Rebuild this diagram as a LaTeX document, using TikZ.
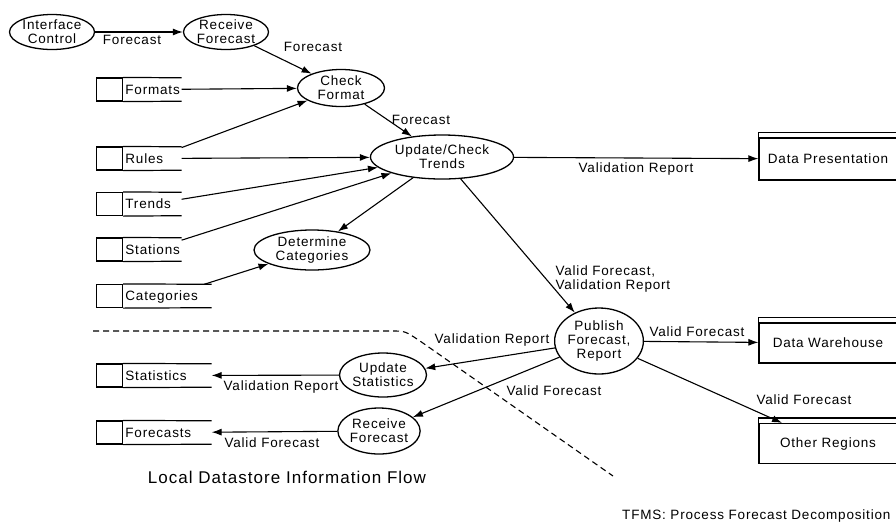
\documentclass[tikz,border=0pt]{standalone}
\usepackage{fontspec}
\setmainfont{Liberation Sans}[LetterSpace=6]
\usetikzlibrary{shapes.geometric, positioning, arrows.meta}

\newcommand\lblfont{\fontsize{13.5}{14}\selectfont}

\tikzset{
    >={Latex[length=10pt,width=7pt]},
    process/.style={ellipse, draw, line width=1.3pt, inner sep=0pt, align=center, font=\lblfont},
    storetag/.style={rectangle, draw, line width=1.2pt, minimum width=26pt, minimum height=23pt, anchor=west},
    storename/.style={rectangle, minimum height=23pt, inner xsep=2pt, inner ysep=0pt, align=left, font=\lblfont, text height=9.5pt, text depth=0pt},
    storeline/.style={line width=1.2pt},
    entity/.style={rectangle, draw, line width=1.2pt, minimum width=138pt, font=\lblfont},
    flow/.style={->, line width=1.1pt},
    lbl/.style={font=\lblfont, inner sep=0pt, text height=9.5pt, text depth=0pt},
}

\begin{document}
\begin{tikzpicture}[x=1pt, y=-1pt]
    \useasboundingbox (0,0) rectangle (896,523);
    % Processes
    \node[process, minimum width=85pt, minimum height=35pt] (Interface) at (52,32) {Interface\\Control};
    \node[process, minimum width=85pt, minimum height=35pt] (Receive-1) at (226,32) {Receive\\Forecast};
    \node[process, minimum width=87pt, minimum height=37pt] (Check) at (341,88) {Check\\Format};
    \node[process, minimum width=143pt, minimum height=44pt] (Update) at (442,157) {Update/Check\\Trends};
    \node[process, minimum width=116pt, minimum height=40pt] (Determine) at (312,250) {Determine\\Categories};
    \node[process, minimum width=84pt, minimum height=66pt] (Publish) at (599,341) {Publish\\Forecast,\\Report};
    \node[process, minimum width=87pt, minimum height=44pt] (Update-stats) at (383,375) {Update\\Statistics};
    \node[process, minimum width=78pt, minimum height=46pt] (Receive-2) at (379,431) {Receive\\Forecast};
    % Data stores
    \foreach \name/\y in {Formats/89.5, Rules/158.5, Trends/204, Stations/249.5} {
        \node[storetag] (\name-tag) at (96,\y) {};
        \node[storename, text width=54pt, right=0pt of \name-tag] (\name) {\name};
        \draw[storeline] (\name-tag.north east) -- (\name.north east) (\name-tag.south east) -- (\name.south east);
    }
    \foreach \name/\y in {Categories/296, Statistics/375.5, Forecasts/432.5} {
        \node[storetag] (\name-tag) at (96,\y) {};
        \node[storename, text width=84pt, right=0pt of \name-tag] (\name) {\name};
        \draw[storeline] (\name-tag.north east) -- (\name.north east) (\name-tag.south east) -- (\name.south east);
    }
    % External entities
    \node[entity, minimum height=42pt] (Presentation) at (828,159) {Data Presentation};
    \node[entity, minimum height=40pt] (Warehouse) at (828,343) {Data Warehouse};
    \node[entity, minimum height=40pt] (Regions) at (828,443.5) {Other Regions};
    \foreach \e in {Presentation,Warehouse,Regions} {
        \draw[storeline] (\e.north west) -- ([yshift=5pt]\e.north west) -- ([yshift=5pt]\e.north east);
    }
    % Flows
    \draw[flow] (Interface) -- (Receive-1) node[lbl] at (132,40) {Forecast};
    \draw[flow] (Receive-1) -- (Check) node[lbl] at (313,47) {Forecast};
    \draw[flow] (Formats) -- (Check);
    \draw[flow] (Rules) -- (Check);
    \draw[flow] (Rules) -- (Update);
    \draw[flow] (Trends) -- (Update);
    \draw[flow] (Stations) -- (Update);
    \draw[flow] (Update) -- (Determine);
    \draw[flow] (Categories) -- (Determine);
    \draw[flow] (Check) -- (Update) node[lbl] at (421,120) {Forecast};
    \draw[flow] (Update) -- (Presentation) node[lbl] at (636,168) {Validation Report};
    \draw[flow] (Update) -- (Publish) node[font=\lblfont, inner sep=0pt, align=left, anchor=north west] at (555,265) {Valid Forecast,\\Validation Report};
    \draw[flow] (Publish) -- (Warehouse) node[lbl] at (697,332) {Valid Forecast};
    \draw[flow] (Publish) -- (Regions) node[lbl] at (804,400) {Valid Forecast};
    \draw[flow] (Publish) -- (Update-stats) node[lbl] at (492,339) {Validation Report};
    \draw[flow] (Publish) -- (Receive-2) node[lbl] at (554,391) {Valid Forecast};
    \draw[flow] (Update-stats) -- (Statistics) node[lbl] at (281,386) {Validation Report};
    \draw[flow] (Receive-2) -- (Forecasts) node[lbl] at (272,443) {Valid Forecast};
    % Local datastore boundary
    \draw[line width=1.1pt, dash pattern=on 6pt off 4pt] (93,331) -- (392,331) .. controls (405,331) .. (420,341) -- (613,476);
    % Titles
    \node[font=\fontsize{17}{18}\selectfont] (local-title) at (287,477) {Local Datastore Information Flow};
    \node[lbl, anchor=west] (tfms-title) at (622,515) {TFMS: Process Forecast Decomposition};
\end{tikzpicture}
\end{document}
